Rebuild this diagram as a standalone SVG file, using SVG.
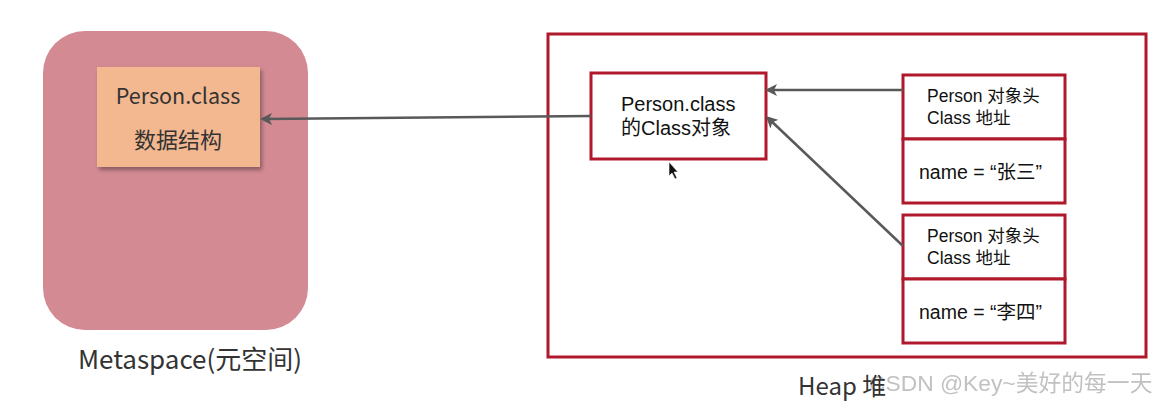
<svg xmlns="http://www.w3.org/2000/svg" width="1158" height="403" viewBox="0 0 1158 403">
<style>
.red{fill:#ffffff;stroke:#b0182b;stroke-width:3}
.yh{font-family:"Noto Sans CJK SC","Noto Sans",sans-serif;fill:#333}
.ar{font-family:"Liberation Sans","Noto Sans CJK SC",sans-serif;fill:#111}
.conn{stroke:#595959;stroke-width:2.5;fill:none;marker-end:url(#ah)}
</style>
<defs>
<marker id="ah" markerWidth="12" markerHeight="12" refX="9" refY="6" orient="auto" markerUnits="userSpaceOnUse">
<path d="M0,0 L12,6 L0,12 L3,6 Z" fill="#595959"/>
</marker>
<filter id="sh" x="-10%" y="-10%" width="130%" height="130%">
<feGaussianBlur in="SourceAlpha" stdDeviation="2"/>
<feOffset dx="2" dy="3"/>
<feComponentTransfer><feFuncA type="linear" slope="0.35"/></feComponentTransfer>
<feMerge><feMergeNode/><feMergeNode in="SourceGraphic"/></feMerge>
</filter>
</defs>
<rect width="1158" height="403" fill="#ffffff"/>
<g id="metaspace">
<rect x="43" y="31" width="265" height="299" rx="42" fill="#d38a93"/>
<text x="190" y="369" class="yh" font-size="26" text-anchor="middle" fill="#222">Metaspace(元空间)</text>
</g>
<g id="person-class-struct">
<rect x="97" y="67" width="163" height="100" fill="#f3b890" filter="url(#sh)"/>
<text x="178" y="104" class="yh" font-size="21.5" text-anchor="middle">Person.class</text>
<text x="178" y="148" class="yh" font-size="22" text-anchor="middle">数据结构</text>
</g>
<g id="heap">
<rect x="548" y="34" width="598" height="323" fill="none" stroke="#b0182b" stroke-width="3"/>
<text x="869" y="391" font-family="'Liberation Sans','Noto Sans CJK SC',sans-serif" font-size="22.8" fill="#bbbbbb" opacity="0.9">CSDN @Key~美好的每一天</text>
<text x="798" y="395" class="yh" font-size="24" fill="#222">Heap 堆</text>
</g>
<g id="class-object">
<rect x="591" y="73" width="175" height="86" class="red"/>
<text x="621" y="111" class="ar" font-size="20">Person.class</text>
<text x="621" y="135" class="ar" font-size="20">的Class对象</text>
</g>
<g id="person1">
<rect x="903" y="75" width="162" height="64" class="red"/>
<rect x="903" y="139" width="162" height="64" class="red"/>
<text x="927" y="102" class="ar" font-size="17.5">Person 对象头</text>
<text x="927" y="124" class="ar" font-size="17.5">Class 地址</text>
<text x="919" y="179" class="ar" font-size="19.5">name = “张三”</text>
</g>
<g id="person2">
<rect x="903" y="215" width="162" height="64" class="red"/>
<rect x="903" y="279" width="162" height="64" class="red"/>
<text x="927" y="242" class="ar" font-size="17.5">Person 对象头</text>
<text x="927" y="264" class="ar" font-size="17.5">Class 地址</text>
<text x="919" y="319" class="ar" font-size="19.5">name = “李四”</text>
</g>
<g id="connectors">
<line x1="903" y1="90" x2="768" y2="90" class="conn"/>
<line x1="903" y1="246" x2="768" y2="118" class="conn"/>
<line x1="591" y1="116" x2="263" y2="119" class="conn"/>
</g>
<g id="cursor">
<path d="M669,162 L669,176 L672,173 L675,179 L677,178 L674,172 L678,172 Z" fill="#111" stroke="#fff" stroke-width="0.6"/>
</g>
</svg>
